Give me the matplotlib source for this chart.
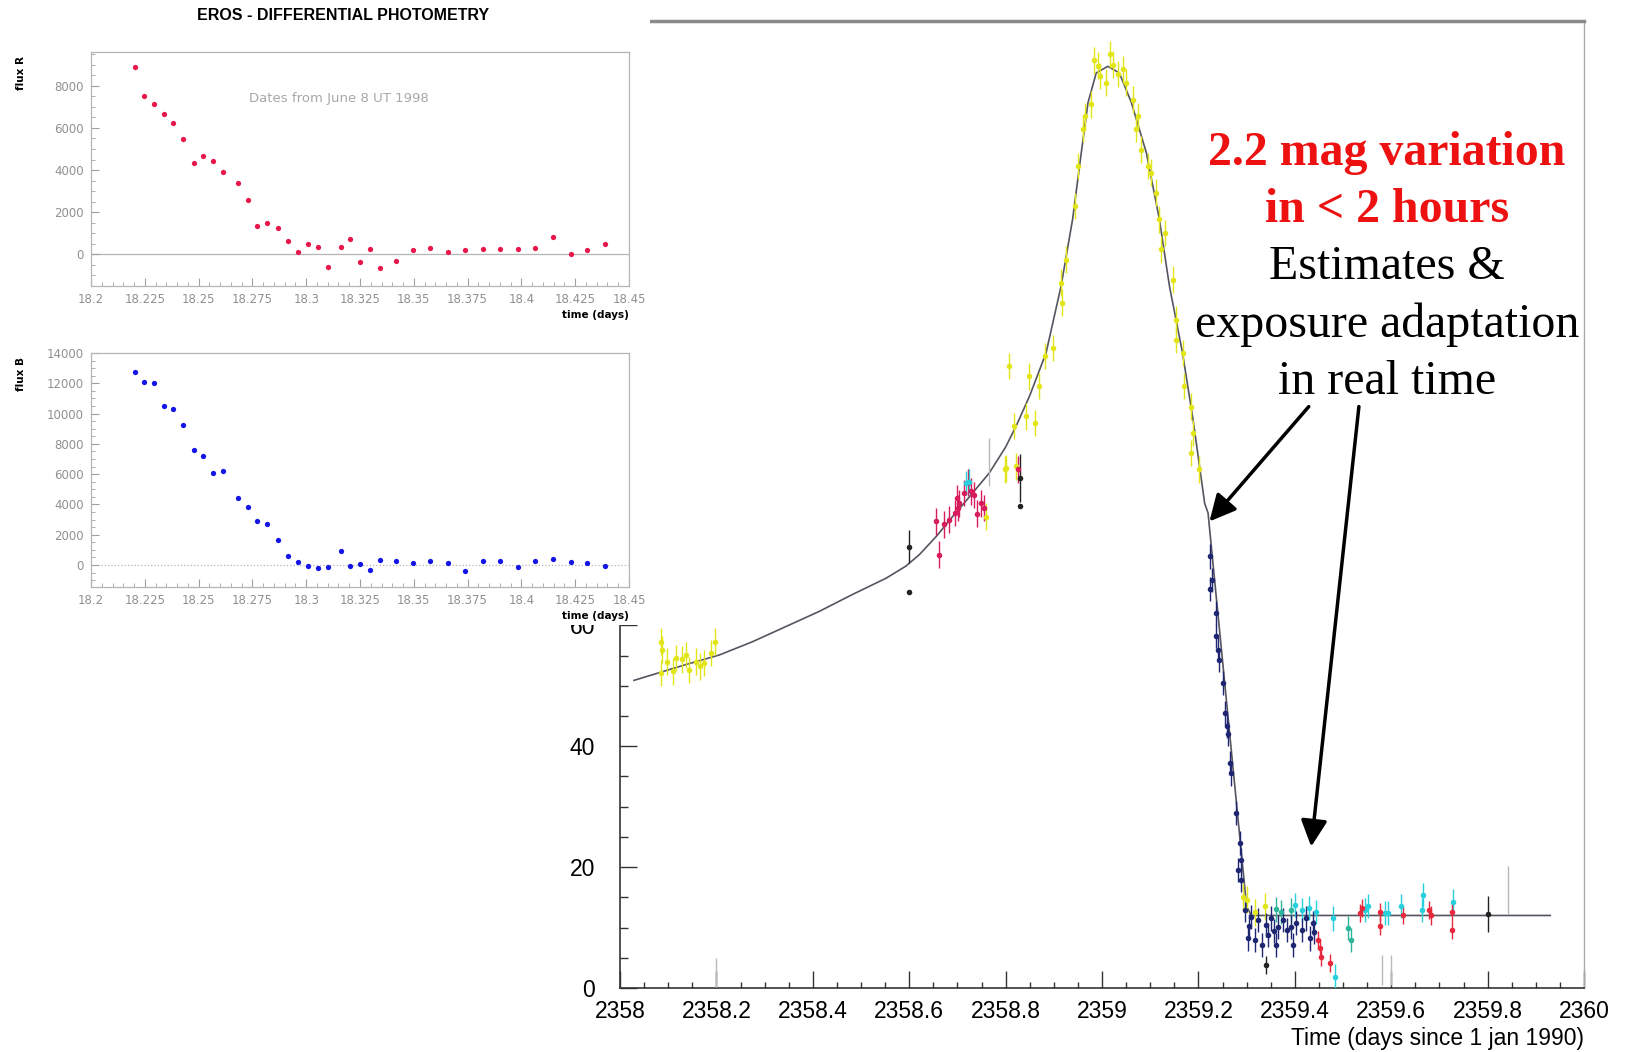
import matplotlib
matplotlib.use("Agg")
import matplotlib.pyplot as plt
from matplotlib.ticker import MultipleLocator, FixedLocator, FixedFormatter
from matplotlib.patches import Rectangle

W, H = 1629, 1052

# ---- main light curve ----
model_t = [2358.029, 2358.136, 2358.206, 2358.275, 2358.344, 2358.413, 2358.482, 2358.552,
           2358.593, 2358.621, 2358.656, 2358.690, 2358.720, 2358.766, 2358.800, 2358.822,
           2358.850, 2358.884, 2358.915, 2358.939, 2358.957, 2358.971, 2358.988,
           2359.012, 2359.036, 2359.061, 2359.092, 2359.119, 2359.140, 2359.167,
           2359.189, 2359.213, 2359.220, 2359.300, 2359.31, 2359.93]
model_f = [50.9, 53.5, 55.1, 57.3, 59.8, 62.3, 65.1, 67.8,
           69.8, 71.7, 74.7, 78.0, 80.8, 85.2, 89.5, 93.0,
           98.0, 105.1, 116.1, 127.2, 138.2, 146.5, 151.4,
           152.5, 151.4, 146.5, 138.2, 127.2, 116.1, 105.1,
           94.0, 80.2, 78.6, 13.5, 12.0, 12.0]

yellow_t = [2358.085, 2358.088, 2358.098, 2358.109, 2358.116, 2358.129, 2358.143, 2358.157,
            2358.174, 2358.188, 2358.197, 2358.085, 2358.165, 2358.137,
            2358.798, 2358.808, 2358.801, 2358.818, 2358.822, 2358.843, 2358.849, 2358.860,
            2358.870, 2358.881, 2358.898, 2358.915, 2358.918, 2358.925, 2358.943, 2358.950,
            2358.960, 2358.964, 2358.977, 2358.984, 2358.991, 2358.995, 2359.009, 2359.016,
            2359.022, 2359.033, 2359.043, 2359.050, 2359.064, 2359.071, 2359.074, 2359.081,
            2359.095, 2359.102, 2359.112, 2359.119, 2359.123, 2359.130, 2359.147, 2359.154,
            2359.154, 2359.168, 2359.170, 2359.184, 2359.184, 2359.189, 2359.201,
            2359.293, 2359.300, 2359.338, 2359.317, 2358.760]
yellow_f = [57.3, 56.0, 54.0, 52.4, 54.6, 54.4, 52.6, 54.0,
            53.8, 55.4, 57.3, 52.1, 53.2, 55.1,
            85.8, 102.9, 86.0, 93.0, 86.3, 94.6, 101.2, 93.5,
            99.6, 104.6, 105.9, 116.7, 113.4, 120.5, 129.4, 136.0,
            142.1, 144.3, 146.2, 153.5, 152.6, 150.9, 149.8, 154.5,
            152.8, 151.2, 152.0, 149.8, 147.0, 142.1, 144.3, 138.7,
            136.0, 134.9, 131.6, 127.2, 122.2, 124.9, 117.2, 110.6,
            107.3, 105.1, 99.6, 96.2, 88.5, 91.8, 85.8,
            15.1, 14.6, 13.5, 12.5, 78.0]

magenta_t = [2358.661, 2358.656, 2358.673, 2358.683, 2358.694, 2358.701, 2358.704, 2358.700,
             2358.714, 2358.721, 2358.728, 2358.735, 2358.749, 2358.756, 2358.740, 2358.825]
magenta_f = [71.7, 77.2, 76.7, 77.5, 78.6, 79.4, 80.2, 81.0,
             81.9, 83.6, 82.2, 81.6, 80.2, 79.4, 78.5, 85.8]

navy_t = [2359.225, 2359.229, 2359.225, 2359.236, 2359.237, 2359.241, 2359.243, 2359.251,
          2359.255, 2359.259, 2359.262, 2359.265, 2359.268, 2359.279, 2359.286, 2359.288,
          2359.283, 2359.289,
          2359.296, 2359.306, 2359.303, 2359.317, 2359.324, 2359.331, 2359.341, 2359.351,
          2359.362, 2359.365, 2359.375, 2359.383, 2359.396, 2359.393, 2359.403, 2359.414,
          2359.424, 2359.431, 2359.438, 2359.440, 2359.310, 2359.345, 2359.356]
navy_f = [71.4, 67.5, 66.0, 62.0, 58.2, 56.0, 54.3, 50.4,
          45.5, 43.3, 42.0, 37.2, 35.5, 28.9, 24.0, 21.2,
          19.5, 17.9,
          12.9, 10.2, 8.2, 7.9, 11.3, 7.1, 10.4, 11.5,
          7.1, 10.1, 11.3, 9.6, 7.1, 10.1, 10.7, 9.6,
          11.5, 8.2, 10.7, 9.2, 11.8, 8.8, 9.4]

cyan_t = [2358.725, 2358.718, 2359.414, 2359.445, 2359.483, 2359.479, 2359.545, 2359.551,
          2359.587, 2359.594, 2359.621, 2359.663, 2359.666, 2359.729, 2359.400, 2359.430]
cyan_f = [83.8, 83.5, 12.9, 12.6, 1.9, 11.5, 12.9, 13.5,
          12.4, 12.4, 13.5, 12.9, 15.4, 14.3, 13.8, 13.2]

teal_t = [2359.511, 2359.517, 2359.372, 2359.393, 2359.360]
teal_f = [9.9, 7.9, 12.6, 12.9, 13.0]

red_t = [2359.448, 2359.452, 2359.455, 2359.472, 2359.535, 2359.576, 2359.576, 2359.625,
         2359.679, 2359.682, 2359.727, 2359.727, 2359.540]
red_f = [7.9, 6.6, 5.2, 4.1, 12.4, 10.3, 12.6, 12.1,
         12.9, 12.0, 12.6, 9.6, 13.2]

black_t = [2358.600, 2358.599, 2358.829, 2358.829, 2359.341, 2359.801]
black_f = [73.0, 65.6, 79.8, 84.4, 3.8, 12.3]
black_e = [2.7, 0.0, 0.0, 4.0, 1.5, 3.0]

gray_t = [2358.200, 2358.766, 2359.580, 2359.600, 2359.843]
gray_f = [2.5, 87.0, 3.0, 3.0, 16.2]
gray_e = [2.5, 4.0, 2.5, 2.5, 4.0]

main_xticks = [2358, 2358.2, 2358.4, 2358.6, 2358.8, 2359, 2359.2, 2359.4, 2359.6, 2359.8, 2360]
main_xlabels = ['2358', '2358.2', '2358.4', '2358.6', '2358.8', '2359',
                '2359.2', '2359.4', '2359.6', '2359.8', '2360']

# ---- inset data: differential photometry ----
ins_t = [18.2204, 18.2246, 18.2292, 18.2338, 18.2382, 18.2429, 18.2477, 18.2521, 18.2567, 18.2613,
         18.2685, 18.2729, 18.2773, 18.2819, 18.2868, 18.2916, 18.2962, 18.3008, 18.3053, 18.3103,
         18.3160, 18.3204, 18.3252, 18.3298, 18.3345, 18.3416, 18.3496, 18.3576, 18.3658, 18.3740,
         18.3820, 18.3900, 18.3985, 18.4065, 18.4147, 18.4229, 18.4307, 18.4389]
flux_R = [8910, 7498, 7153, 6682, 6227, 5490, 4329, 4659, 4408, 3890,
          3373, 2588, 1349, 1490, 1271, 627, 110, 502, 345, -596,
          361, 737, -376, 235, -627, -298, 204, 282, 94, 220,
          267, 267, 267, 282, 831, 0, 188, 470]
flux_B = [12763, 12083, 11995, 10482, 10307, 9254, 7566, 7171, 6075, 6228,
          4408, 3816, 2939, 2741, 1623, 614, 219, -88, -175, -132,
          921, -88, 44, -307, 307, 241, 132, 285, 154, -417,
          285, 285, -154, 263, 373, 219, 132, -88]
ins_xticks = [18.2, 18.225, 18.25, 18.275, 18.3, 18.325, 18.35, 18.375, 18.4, 18.425, 18.45]
ins_xlabels = ['18.2', '18.225', '18.25', '18.275', '18.3', '18.325', '18.35',
               '18.375', '18.4', '18.425', '18.45']


def fx(px):
    return px / W


def fy(py):
    return 1 - py / H


fig = plt.figure(figsize=(W / 100, H / 100), dpi=100)
fig.patch.set_facecolor('white')

# MAIN PLOT
ax = fig.add_axes([fx(620), fy(988), (1584 - 620) / W, (988 - 21) / H])
ax.set_xlim(2358, 2360)
ax.set_ylim(0, 160)

ax.plot(model_t, model_f, color='#555560', lw=1.2, zorder=2)

groups = [
    (gray_t, gray_f, gray_e, '#b8b8b8', 0),
    (yellow_t, yellow_f, 2.2, '#e2e619', 4),
    (magenta_t, magenta_f, 2.2, '#d81b5c', 4),
    (cyan_t, cyan_f, 2.0, '#27d0dc', 4),
    (teal_t, teal_f, 2.0, '#2cb59a', 4),
    (red_t, red_f, 1.5, '#e8283c', 4),
    (navy_t, navy_f, 2.0, '#1e2672', 4),
    (black_t, black_f, black_e, '#222222', 4),
]
for t, f, e, c, ms in groups:
    ax.errorbar(t, f, yerr=e, fmt='o' if ms else 'none', ms=ms, color=c,
                ecolor=c, elinewidth=1.0, capsize=0, mew=0, zorder=3)

ax.xaxis.set_major_locator(FixedLocator(main_xticks))
ax.xaxis.set_major_formatter(FixedFormatter(main_xlabels))
ax.xaxis.set_minor_locator(MultipleLocator(0.05))
ax.yaxis.set_major_locator(MultipleLocator(20))
ax.yaxis.set_minor_locator(MultipleLocator(5))
ax.tick_params(which='both', direction='in', colors='#333333', labelcolor='black',
               labelsize=16.5, labelfontfamily='Liberation Sans')
ax.tick_params(axis='x', which='major', length=12, width=1, pad=9)
ax.tick_params(axis='x', which='minor', length=4, width=1)
ax.tick_params(axis='y', which='major', length=12, width=1, pad=18)
ax.tick_params(axis='y', which='minor', length=6, width=1)
for s in ['left', 'bottom']:
    ax.spines[s].set_color('#333333')
    ax.spines[s].set_linewidth(1.2)
ax.spines['top'].set_color('#8a8a8a')
ax.spines['top'].set_linewidth(2.5)
ax.spines['right'].set_color('#aaaaaa')
ax.spines['right'].set_linewidth(1.0)

fig.text(fx(1584), fy(1039), 'Time (days since 1 jan 1990)', ha='right', va='center',
         fontsize=16.5, family='Liberation Sans')

# annotation text and arrows
serif = 'Liberation Serif'
fig.text(fx(1387), fy(153), '2.2 mag variation', ha='center', va='center',
         fontsize=34.5, color='#ee1111', fontweight='bold', family=serif)
fig.text(fx(1387), fy(210), 'in < 2 hours', ha='center', va='center',
         fontsize=34.5, color='#ee1111', fontweight='bold', family=serif)
fig.text(fx(1387), fy(267), 'Estimates &', ha='center', va='center', fontsize=34.5, family=serif)
fig.text(fx(1387), fy(325), 'exposure adaptation', ha='center', va='center', fontsize=34.5, family=serif)
fig.text(fx(1387), fy(382), 'in real time', ha='center', va='center', fontsize=34.5, family=serif)

arrow = dict(arrowstyle='-|>', color='black', lw=2.5, mutation_scale=40, shrinkA=0, shrinkB=0)
ax.annotate('', xy=(2359.223, 77.2), xytext=(2359.429, 96.2), arrowprops=arrow)
ax.annotate('', xy=(2359.434, 23.4), xytext=(2359.533, 96.2), arrowprops=arrow)

# white box under the pasted insets
fig.add_artist(Rectangle((0, fy(625)), fx(650), 625 / H, transform=fig.transFigure,
                         facecolor='white', edgecolor='none', zorder=2))

fig.text(fx(343), fy(16), 'EROS - DIFFERENTIAL PHOTOMETRY', ha='center', va='center',
         fontsize=11.5, fontweight='bold', family='Liberation Sans', zorder=5)


def inset(top, bottom, vals, color, ylim, ymax_tick, label, zero_style):
    a = fig.add_axes([fx(91), fy(bottom), (629 - 91) / W, (bottom - top) / H], zorder=3)
    a.set_facecolor('white')
    a.set_xlim(18.2, 18.45)
    a.set_ylim(*ylim)
    a.axhline(0, color='#b5b5b5', lw=0.9, ls=zero_style, zorder=1)
    a.plot(ins_t, vals, 'o', color=color, ms=3.8, mew=0, zorder=2)
    a.xaxis.set_major_locator(FixedLocator(ins_xticks))
    a.xaxis.set_major_formatter(FixedFormatter(ins_xlabels))
    a.xaxis.set_minor_locator(MultipleLocator(0.005))
    a.yaxis.set_major_locator(FixedLocator(list(range(0, ymax_tick + 1, 2000))))
    a.yaxis.set_minor_locator(MultipleLocator(500))
    a.tick_params(which='both', direction='in', colors='#a0a0a0', labelcolor='#909090',
                  labelsize=8.5)
    a.tick_params(which='major', length=6, pad=5)
    a.tick_params(which='minor', length=3)
    for s in a.spines.values():
        s.set_color('#b5b5b5')
        s.set_linewidth(0.9)
    fig.text(fx(21), fy(top + 21), label, rotation=90, ha='center', va='center',
             fontsize=7.5, fontweight='bold', zorder=5)
    fig.text(fx(629), fy(bottom + 29), 'time (days)', ha='right', va='center',
             fontsize=7.5, fontweight='bold', zorder=5)
    return a


ax_r = inset(52, 286, flux_R, '#e8174a', (-1500, 9600), 8000, 'flux R', '-')
ax_r.text(0.46, 0.80, 'Dates from June 8 UT 1998', transform=ax_r.transAxes,
          ha='center', va='center', fontsize=9.5, color='#a8a8a8')
ax_b = inset(353, 587, flux_B, '#1414e6', (-1450, 14000), 14000, 'flux B', ':')

fig.savefig('out.png', dpi=100, facecolor='white')
